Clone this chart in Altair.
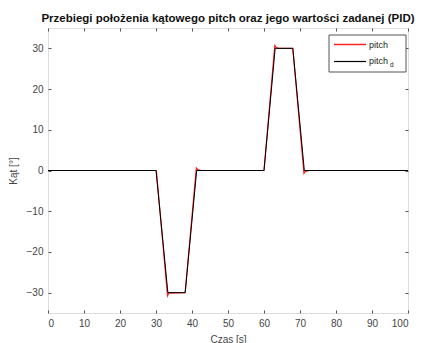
import altair as alt
import pandas as pd

# reference (setpoint) trajectory pitch_d
t_ref = [0, 30, 33.3, 38.1, 41.3, 60, 63.1, 68.0, 71.2, 100]
pitch_ref = [0, 0, -30, -30, 0, 0, 30, 30, 0, 0]

# measured pitch (PID) with small overshoots
t_act = [0, 30.1, 33.2, 33.6, 38.1, 41.2, 41.6, 42.6, 60, 63.0, 63.4, 64.2, 68.0, 71.1, 71.5, 72.6, 100]
pitch_act = [0, 0, -30.8, -30.1, -30, 0.6, 0.2, 0, 0, 30.7, 30.2, 30, 30, -0.7, -0.2, 0, 0]

x_ticks = [0, 10, 20, 30, 40, 50, 60, 70, 80, 90, 100]
y_ticks = [-30, -20, -10, 0, 10, 20, 30]
title_text = "Przebiegi położenia kątowego pitch oraz jego wartości zadanej (PID)"
x_title = "Czas [s]"
y_title = "Kąt [°]"
legend_names = ["pitch", "pitch", "d"]

FONT = "Liberation Sans"
AX = "#555555"
LAB = "#444444"

df_ref = pd.DataFrame({"t": t_ref, "v": pitch_ref})
df_act = pd.DataFrame({"t": t_act, "v": pitch_act})
one = pd.DataFrame({"k": [0]})

xs = alt.Scale(domain=[0, 100], nice=False, zero=False)
ys = alt.Scale(domain=[-35, 35], nice=False, zero=False)

common = dict(domain=False, grid=False, tickSize=3, offset=-3, tickColor=AX, tickWidth=1,
              labelFont=FONT, labelFontSize=10, labelColor=LAB,
              titleFont=FONT, titleFontSize=10, titleColor=LAB, titleFontWeight="normal")

red = alt.Chart(df_act).mark_line(color="#ff2020", strokeWidth=1.2).encode(
    x=alt.X("t:Q", scale=xs, axis=alt.Axis(orient="bottom", values=x_ticks, title=x_title,
                                            labelPadding=5, titlePadding=6, **common)),
    y=alt.Y("v:Q", scale=ys, axis=alt.Axis(orient="left", values=y_ticks, title=y_title,
                                            labelPadding=5, titlePadding=8, **common)),
)

black = alt.Chart(df_ref).mark_line(color="#000000", strokeWidth=1).encode(
    x=alt.X("t:Q", scale=xs, axis=alt.Axis(orient="top", values=x_ticks, title=None, labels=False, **common)),
    y=alt.Y("v:Q", scale=ys, axis=alt.Axis(orient="right", values=y_ticks, title=None, labels=False, **common)),
)

lg_box = alt.Chart(one).mark_rect(fill="white", stroke=AX, strokeWidth=1).encode(
    x=alt.value(281), x2=alt.value(358), y=alt.value(7), y2=alt.value(44))
lg_red = alt.Chart(one).mark_rule(color="#ff2020", strokeWidth=1.5).encode(
    x=alt.value(286), x2=alt.value(318), y=alt.value(16.5))
lg_blk = alt.Chart(one).mark_rule(color="#000000", strokeWidth=1.2).encode(
    x=alt.value(286), x2=alt.value(318), y=alt.value(33.5))
lg_t1 = alt.Chart(one).mark_text(align="left", baseline="middle", font=FONT, fontSize=9, color="#222222").encode(
    x=alt.value(321), y=alt.value(16.5), text=alt.value(legend_names[0]))
lg_t2 = alt.Chart(one).mark_text(align="left", baseline="middle", font=FONT, fontSize=9, color="#222222").encode(
    x=alt.value(321), y=alt.value(33), text=alt.value(legend_names[1]))
lg_t3 = alt.Chart(one).mark_text(align="left", baseline="middle", font=FONT, fontSize=6.5, color="#222222").encode(
    x=alt.value(342), y=alt.value(36.5), text=alt.value(legend_names[2]))

chart = alt.layer(red, black, lg_box, lg_red, lg_blk, lg_t1, lg_t2, lg_t3).resolve_axis(
    x="independent", y="independent"
).properties(
    width=360, height=285,
    title=alt.TitleParams(text=title_text, font=FONT, fontSize=11.5, fontWeight="bold",
                          color="#111111", anchor="middle", offset=3),
    autosize="none",
    padding={"left": 40, "top": 20, "right": 9, "bottom": 30},
).configure_view(stroke=AX, strokeWidth=1).configure(background="white")

chart.save("out.html", embed_options={"renderer": "svg", "actions": False})
